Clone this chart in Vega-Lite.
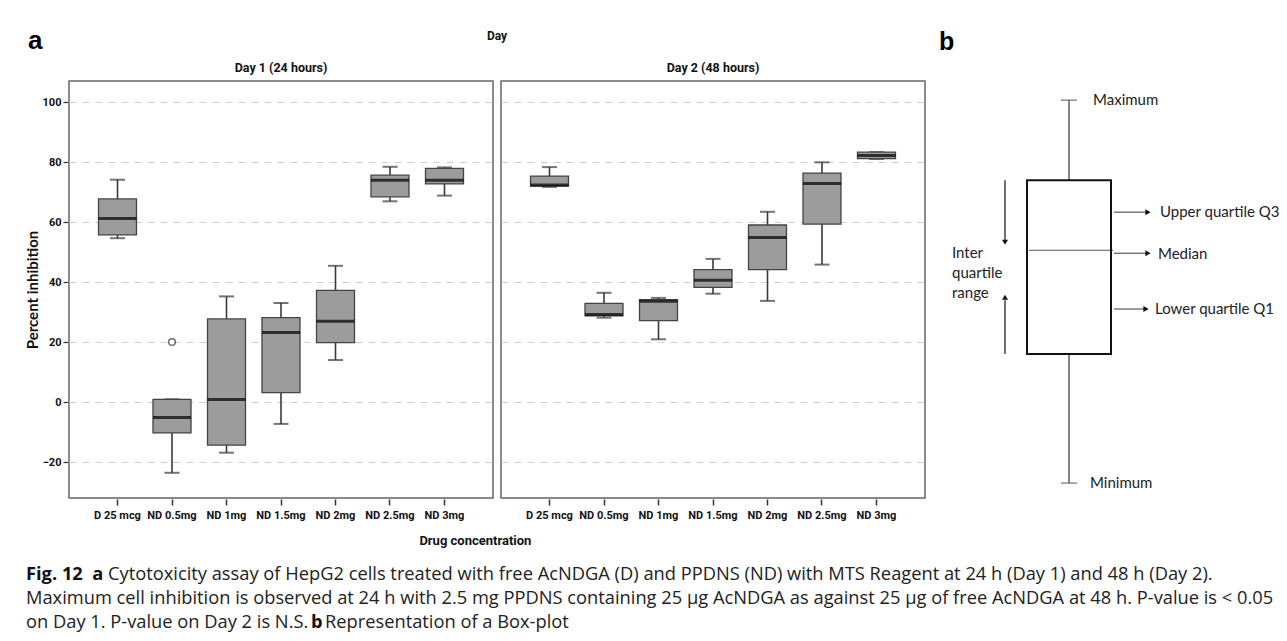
{
  "$schema": "https://vega.github.io/schema/vega-lite/v6.json",
  "background": "white",
  "padding": {"left": 25, "top": 28, "right": 0, "bottom": 0},
  "title": {"text": "a", "anchor": "start", "font": "Liberation Sans", "fontSize": 26, "fontWeight": "bold", "color": "#000", "offset": -24, "dx": 3},
  "datasets": {
    "boxes": [
      {"day": "Day 1 (24 hours)", "conc": "D 25 mcg", "lower": 54.6, "q1": 55.7, "median": 61.2, "q3": 67.7, "upper": 74.1, "outlier": null},
      {"day": "Day 1 (24 hours)", "conc": "ND 0.5mg", "lower": -23.6, "q1": -10.3, "median": -5.2, "q3": 0.9, "upper": 0.9, "outlier": 20},
      {"day": "Day 1 (24 hours)", "conc": "ND 1mg", "lower": -16.9, "q1": -14.4, "median": 0.8, "q3": 27.7, "upper": 35.2, "outlier": null},
      {"day": "Day 1 (24 hours)", "conc": "ND 1.5mg", "lower": -7.3, "q1": 3.1, "median": 23.2, "q3": 28.1, "upper": 33.0, "outlier": null},
      {"day": "Day 1 (24 hours)", "conc": "ND 2mg", "lower": 14.0, "q1": 19.8, "median": 26.9, "q3": 37.2, "upper": 45.4, "outlier": null},
      {"day": "Day 1 (24 hours)", "conc": "ND 2.5mg", "lower": 66.9, "q1": 68.4, "median": 73.9, "q3": 75.6, "upper": 78.4, "outlier": null},
      {"day": "Day 1 (24 hours)", "conc": "ND 3mg", "lower": 68.8, "q1": 72.7, "median": 73.9, "q3": 77.9, "upper": 78.2, "outlier": null},
      {"day": "Day 2 (48 hours)", "conc": "D 25 mcg", "lower": 71.7, "q1": 72.0, "median": 72.3, "q3": 75.3, "upper": 78.3, "outlier": null},
      {"day": "Day 2 (48 hours)", "conc": "ND 0.5mg", "lower": 28.1, "q1": 28.7, "median": 29.2, "q3": 32.9, "upper": 36.4, "outlier": null},
      {"day": "Day 2 (48 hours)", "conc": "ND 1mg", "lower": 20.9, "q1": 27.1, "median": 33.6, "q3": 34.1, "upper": 34.7, "outlier": null},
      {"day": "Day 2 (48 hours)", "conc": "ND 1.5mg", "lower": 36.1, "q1": 38.2, "median": 40.6, "q3": 44.1, "upper": 47.7, "outlier": null},
      {"day": "Day 2 (48 hours)", "conc": "ND 2mg", "lower": 33.7, "q1": 44.1, "median": 54.8, "q3": 59.0, "upper": 63.4, "outlier": null},
      {"day": "Day 2 (48 hours)", "conc": "ND 2.5mg", "lower": 45.8, "q1": 59.3, "median": 72.8, "q3": 76.3, "upper": 79.9, "outlier": null},
      {"day": "Day 2 (48 hours)", "conc": "ND 3mg", "lower": 81.0, "q1": 81.1, "median": 82.2, "q3": 83.3, "upper": 83.3, "outlier": null}
    ],
    "schema": [
      {"plot": "Box-plot", "lower": 0, "q1": 33.7, "median": 60.8, "q3": 79.1, "upper": 100}
    ],
    "caption": [
      {"line": 1, "seg": "fig", "text": "Fig. 12\u00a0\u00a0a"},
      {"line": 1, "seg": "t1", "text": "Cytotoxicity assay of HepG2 cells treated with free AcNDGA (D) and PPDNS (ND) with MTS Reagent at 24 h (Day 1) and 48 h (Day 2)."},
      {"line": 2, "seg": "t2a", "text": "Maximum cell inhibition is observed at 24 h with 2.5 mg PPDNS containing 25 µg AcNDGA as against 25 µg of free AcNDGA at 48 h. P-value is < 0.05"},
      {"line": 3, "seg": "t3a", "text": "on Day 1. P-value on Day 2 is N.S."},
      {"line": 3, "seg": "b", "text": "b"},
      {"line": 3, "seg": "t3c", "text": "Representation of a Box-plot"}
    ]
  },
  "config": {
    "view": {"stroke": null},
    "axis": {"labelColor": "#111", "titleColor": "#111", "tickColor": "#333"}
  },
  "spacing": 15,
  "vconcat": [
    {
      "spacing": 4,
      "hconcat": [
        {
          "data": {"name": "boxes"},
          "title": {"text": "Drug concentration", "orient": "bottom", "anchor": "middle", "font": "Noto Sans Condensed, Roboto", "fontSize": 13, "fontWeight": "bold", "color": "#111", "offset": 15},
          "spacing": 6,
          "facet": {
            "column": {
              "field": "day", "type": "nominal", "title": "Day",
              "header": {
                "titleFont": "Noto Sans Condensed, Roboto", "titleFontSize": 12, "titleFontWeight": "bold", "titleColor": "#111", "titlePadding": 8,
                "labelFont": "Noto Sans Condensed, Roboto", "labelFontSize": 12.5, "labelFontWeight": "bold", "labelColor": "#111", "labelPadding": 6
              }
            }
          },
          "spec": {
            "width": 424,
            "height": 417,
            "view": {"stroke": "#666", "strokeWidth": 1.5},
            "encoding": {
              "x": {
                "field": "conc", "type": "nominal", "sort": null,
                "scale": {"paddingInner": 0, "paddingOuter": 0.39},
                "axis": {"title": null, "labelAngle": 0, "labelFont": "Noto Sans Condensed, Roboto", "labelFontSize": 11, "labelFontWeight": "bold", "domain": false, "tickSize": 6, "tickWidth": 1.5, "labelPadding": 4}
              }
            },
            "layer": [
              {
                "mark": {"type": "rule", "color": "#3a3a3a", "strokeWidth": 1.6},
                "encoding": {
                  "y": {
                    "field": "lower", "type": "quantitative",
                    "scale": {"domain": [-32, 107], "nice": false, "zero": false},
                    "axis": {
                      "title": "Percent inhibition", "titleFont": "Lato", "titleFontSize": 15, "titleFontWeight": "bold", "titlePadding": 2,
                      "values": [-20, 0, 20, 40, 60, 80, 100],
                      "labelFont": "Noto Sans Condensed, Roboto", "labelFontSize": 11, "labelFontWeight": "bold",
                      "domain": false, "tickSize": 5, "tickWidth": 1.2, "labelPadding": 2,
                      "grid": true, "gridDash": [7, 6], "gridColor": "#cfcfcf", "gridWidth": 1
                    }
                  },
                  "y2": {"field": "q1"}
                }
              },
              {
                "mark": {"type": "rule", "color": "#3a3a3a", "strokeWidth": 1.6},
                "encoding": {"y": {"field": "q3", "type": "quantitative"}, "y2": {"field": "upper"}}
              },
              {
                "mark": {"type": "tick", "color": "#3a3a3a", "size": 15, "thickness": 2},
                "encoding": {"y": {"field": "lower", "type": "quantitative"}}
              },
              {
                "mark": {"type": "tick", "color": "#3a3a3a", "size": 15, "thickness": 2},
                "encoding": {"y": {"field": "upper", "type": "quantitative"}}
              },
              {
                "mark": {"type": "bar", "width": 38, "fill": "#9c9c9c", "stroke": "#444", "strokeWidth": 1.3},
                "encoding": {"y": {"field": "q1", "type": "quantitative"}, "y2": {"field": "q3"}}
              },
              {
                "mark": {"type": "tick", "color": "#000", "size": 38, "thickness": 3},
                "encoding": {"y": {"field": "median", "type": "quantitative"}}
              },
              {
                "mark": {"type": "point", "shape": "circle", "filled": false, "size": 45, "color": "#333", "strokeWidth": 1.5},
                "encoding": {"y": {"field": "outlier", "type": "quantitative"}}
              }
            ]
          }
        },
        {
          "data": {"name": "schema"},
          "width": 278,
          "height": 417,
          "title": {"text": "b", "anchor": "start", "frame": "group", "font": "Liberation Sans", "fontSize": 25, "fontWeight": "bold", "color": "#000", "offset": 26, "dx": 9},
          "encoding": {"x": {"field": "plot", "type": "nominal", "axis": null}},
          "layer": [
            {
              "mark": {"type": "rule", "color": "#333", "strokeWidth": 1.2},
              "encoding": {
                "y": {"field": "lower", "type": "quantitative", "scale": {"domain": [-3.9, 105], "nice": false, "zero": false}, "axis": null},
                "y2": {"field": "q1"}
              }
            },
            {
              "mark": {"type": "rule", "color": "#333", "strokeWidth": 1.2},
              "encoding": {"y": {"field": "q3", "type": "quantitative"}, "y2": {"field": "upper"}}
            },
            {
              "mark": {"type": "tick", "color": "#333", "size": 16, "thickness": 1.2},
              "encoding": {"y": {"field": "lower", "type": "quantitative"}}
            },
            {
              "mark": {"type": "tick", "color": "#333", "size": 16, "thickness": 1.2},
              "encoding": {"y": {"field": "upper", "type": "quantitative"}}
            },
            {
              "mark": {"type": "bar", "width": 84, "fill": "white", "stroke": "#111", "strokeWidth": 2},
              "encoding": {"y": {"field": "q1", "type": "quantitative"}, "y2": {"field": "q3"}}
            },
            {
              "mark": {"type": "tick", "color": "#111", "size": 84, "thickness": 1.2, "xOffset": 2},
              "encoding": {"y": {"field": "median", "type": "quantitative"}}
            },
            {
              "mark": {"type": "text", "text": "Maximum", "align": "left", "baseline": "middle", "dx": 24, "font": "Lato", "fontSize": 15, "color": "#222"},
              "encoding": {"y": {"field": "upper", "type": "quantitative"}}
            },
            {
              "mark": {"type": "text", "text": "Minimum", "align": "left", "baseline": "middle", "dx": 21, "font": "Lato", "fontSize": 15, "color": "#222"},
              "encoding": {"y": {"field": "lower", "type": "quantitative"}}
            },
            {
              "mark": {"type": "tick", "color": "#111", "size": 32, "thickness": 1.2, "xOffset": 61, "yOffset": 32},
              "encoding": {"y": {"field": "q3", "type": "quantitative"}}
            },
            {
              "mark": {"type": "point", "shape": "triangle-right", "filled": true, "size": 36, "color": "#111", "opacity": 1, "xOffset": 79, "yOffset": 32},
              "encoding": {"y": {"field": "q3", "type": "quantitative"}}
            },
            {
              "mark": {"type": "text", "text": "Upper quartile Q3", "align": "left", "baseline": "middle", "dx": 91, "dy": 32, "font": "Lato", "fontSize": 15, "color": "#222"},
              "encoding": {"y": {"field": "q3", "type": "quantitative"}}
            },
            {
              "mark": {"type": "tick", "color": "#111", "size": 32, "thickness": 1.2, "xOffset": 61, "yOffset": 3},
              "encoding": {"y": {"field": "median", "type": "quantitative"}}
            },
            {
              "mark": {"type": "point", "shape": "triangle-right", "filled": true, "size": 36, "color": "#111", "opacity": 1, "xOffset": 79, "yOffset": 3},
              "encoding": {"y": {"field": "median", "type": "quantitative"}}
            },
            {
              "mark": {"type": "text", "text": "Median", "align": "left", "baseline": "middle", "dx": 89, "dy": 4, "font": "Lato", "fontSize": 15, "color": "#222"},
              "encoding": {"y": {"field": "median", "type": "quantitative"}}
            },
            {
              "mark": {"type": "tick", "color": "#111", "size": 30, "thickness": 1.2, "xOffset": 60, "yOffset": -45},
              "encoding": {"y": {"field": "q1", "type": "quantitative"}}
            },
            {
              "mark": {"type": "point", "shape": "triangle-right", "filled": true, "size": 36, "color": "#111", "opacity": 1, "xOffset": 77, "yOffset": -45},
              "encoding": {"y": {"field": "q1", "type": "quantitative"}}
            },
            {
              "mark": {"type": "text", "text": "Lower quartile Q1", "align": "left", "baseline": "middle", "dx": 86, "dy": -45, "font": "Lato", "fontSize": 15, "color": "#222"},
              "encoding": {"y": {"field": "q1", "type": "quantitative"}}
            },
            {
              "mark": {"type": "rule", "color": "#111", "strokeWidth": 1.2, "xOffset": -64, "y2Offset": -10},
              "encoding": {"y": {"field": "q3", "type": "quantitative"}, "y2": {"field": "median"}}
            },
            {
              "mark": {"type": "point", "shape": "triangle-down", "filled": true, "size": 36, "color": "#111", "opacity": 1, "xOffset": -64, "yOffset": -8},
              "encoding": {"y": {"field": "median", "type": "quantitative"}}
            },
            {
              "mark": {"type": "rule", "color": "#111", "strokeWidth": 1.2, "xOffset": -64, "y2Offset": 50},
              "encoding": {"y": {"field": "q1", "type": "quantitative"}, "y2": {"field": "median"}}
            },
            {
              "mark": {"type": "point", "shape": "triangle-up", "filled": true, "size": 36, "color": "#111", "opacity": 1, "xOffset": -64, "yOffset": 47},
              "encoding": {"y": {"field": "median", "type": "quantitative"}}
            },
            {
              "mark": {"type": "text", "text": ["Inter", "quartile", "range"], "align": "left", "baseline": "top", "lineHeight": 20, "dx": -117, "dy": -4, "font": "Lato", "fontSize": 15, "color": "#222"},
              "encoding": {"y": {"field": "median", "type": "quantitative"}}
            }
          ]
        }
      ]
    },
    {
      "data": {"name": "caption"},
      "width": 1200,
      "height": 72,
      "encoding": {
        "y": {"field": "line", "type": "ordinal", "axis": null, "scale": {"type": "point", "padding": 0.5}},
        "x": {"datum": 0, "type": "quantitative", "scale": {"domain": [0, 1]}, "axis": null}
      },
      "layer": [
        {
          "transform": [{"filter": "datum.seg === 'fig'"}],
          "mark": {"type": "text", "align": "left", "baseline": "middle", "dx": -43, "font": "Open Sans", "fontSize": 18.3, "fontWeight": "bold", "color": "#111"},
          "encoding": {"text": {"field": "text"}}
        },
        {
          "transform": [{"filter": "datum.seg === 't1'"}],
          "mark": {"type": "text", "align": "left", "baseline": "middle", "dx": 39, "font": "Open Sans", "fontSize": 18.3, "color": "#222"},
          "encoding": {"text": {"field": "text"}}
        },
        {
          "transform": [{"filter": "datum.seg === 't2a' || datum.seg === 't3a'"}],
          "mark": {"type": "text", "align": "left", "baseline": "middle", "dx": -43, "font": "Open Sans", "fontSize": 18.3, "color": "#222"},
          "encoding": {"text": {"field": "text"}}
        },
        {
          "transform": [{"filter": "datum.seg === 'b'"}],
          "mark": {"type": "text", "align": "left", "baseline": "middle", "dx": 242, "font": "Open Sans", "fontSize": 18.3, "fontWeight": "bold", "color": "#111"},
          "encoding": {"text": {"field": "text"}}
        },
        {
          "transform": [{"filter": "datum.seg === 't3c'"}],
          "mark": {"type": "text", "align": "left", "baseline": "middle", "dx": 256, "font": "Open Sans", "fontSize": 18.3, "color": "#222"},
          "encoding": {"text": {"field": "text"}}
        }
      ]
    }
  ]
}
